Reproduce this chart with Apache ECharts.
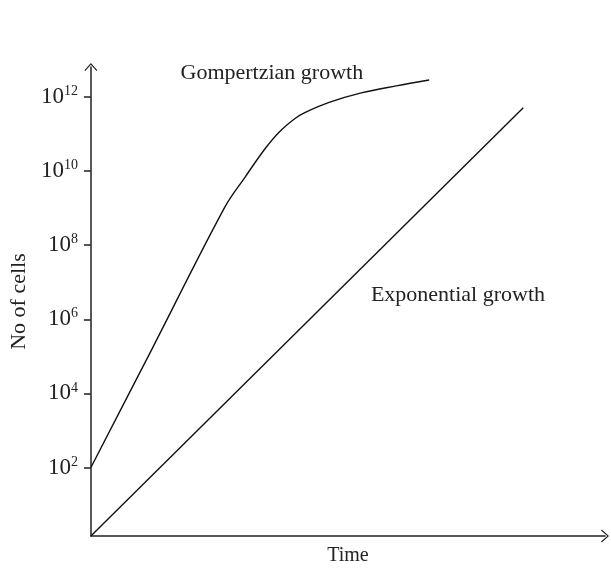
<!DOCTYPE html>
<html>
<head>
<meta charset="utf-8">
<script src="https://cdn.jsdelivr.net/npm/echarts@6/dist/echarts.min.js"></script>
<style>
html,body{margin:0;padding:0;background:#fff;}
#chart{width:611px;height:571px;}
</style>
</head>
<body>
<div id="chart"></div>
<script>
// Time in arbitrary units (0-100); cell counts as log10 exponents
var expTime = [0, 84.1];
var expLogCells = [0.15, 11.71];
var gompTime = [0, 12.0, 26.1, 30.0, 33.8, 36.6, 39.7, 41.6, 46.2, 52.6, 59.4, 65.8];
var gompLogCells = [2.0, 5.23, 9.04, 9.84, 10.59, 11.05, 11.42, 11.58, 11.85, 12.11, 12.30, 12.46];
var yTickExponents = [2, 4, 6, 8, 10, 12];
var labelGompertz = 'Gompertzian growth';
var labelExponential = 'Exponential growth';
var gompLabelAt = [35.2, 12.64];
var expLabelAt = [71.4, 6.65];

function pairs(xs, ys){ return xs.map(function(x,i){ return [x, ys[i]]; }); }

var FONT = '"Liberation Serif", "DejaVu Serif", serif';
var arrowPath = 'path://M6.5,0 L13,7.2 L12.1,8 L6.5,1.7 L0.9,8 L0,7.2 Z';

var chart = echarts.init(document.getElementById('chart'));
chart.setOption({
  animation: false,
  backgroundColor: '#fff',
  grid: {left: 88, right: 6, top: 67, bottom: 30, containLabel: false},
  xAxis: {
    type: 'value', min: 0, max: 100,
    name: 'Time', nameLocation: 'middle', nameGap: 10,
    nameTextStyle: {fontFamily: FONT, fontSize: 20, color: '#222', verticalAlign: 'top'},
    axisLine: {show: true, lineStyle: {color: '#222', width: 1.5},
      symbol: ['none', arrowPath], symbolSize: [13, 8]},
    axisTick: {show: false}, axisLabel: {show: false}, splitLine: {show: false}
  },
  yAxis: {
    type: 'value', min: 0.15, max: 12.81,
    name: 'No of cells', nameLocation: 'middle', nameGap: 60, nameRotate: 90,
    nameTextStyle: {fontFamily: FONT, fontSize: 22, color: '#222'},
    axisLine: {show: true, lineStyle: {color: '#222', width: 1.5},
      symbol: ['none', arrowPath], symbolSize: [13, 8]},
    axisTick: {show: true, length: 7, customValues: yTickExponents, lineStyle: {color: '#222', width: 1.5}},
    axisLabel: {
      show: true, customValues: yTickExponents, margin: 13,
      formatter: function(v){ return '{b|10}{s|' + Math.round(v) + '}'; },
      rich: {
        b: {fontFamily: FONT, fontSize: 23, color: '#222'},
        s: {fontFamily: FONT, fontSize: 14, color: '#222', padding: [0,0,11,0]}
      }
    },
    splitLine: {show: false}
  },
  series: [
    {
      name: 'Exponential growth', type: 'line', showSymbol: false,
      data: pairs(expTime, expLogCells),
      lineStyle: {color: '#111', width: 1.4},
      markPoint: {
        symbol: 'circle', symbolSize: 0, silent: true,
        label: {show: true, formatter: labelExponential, fontFamily: FONT, fontSize: 22, color: '#222'},
        data: [{coord: expLabelAt}]
      }
    },
    {
      name: 'Gompertzian growth', type: 'line', showSymbol: false, smooth: 0.35,
      data: pairs(gompTime, gompLogCells),
      lineStyle: {color: '#111', width: 1.4},
      markPoint: {
        symbol: 'circle', symbolSize: 0, silent: true,
        label: {show: true, formatter: labelGompertz, fontFamily: FONT, fontSize: 22, color: '#222'},
        data: [{coord: gompLabelAt}]
      }
    }
  ]
});
</script>
</body>
</html>
